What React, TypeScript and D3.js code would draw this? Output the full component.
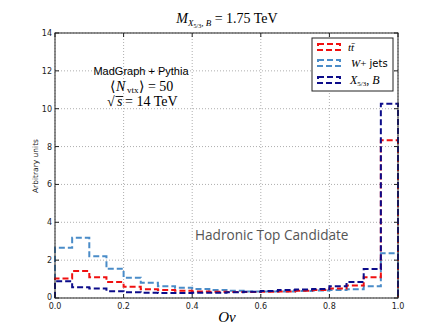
import React from "react";
import * as d3 from "d3";

const binEdges = [0, 0.05, 0.1, 0.15, 0.2, 0.25, 0.3, 0.35, 0.4, 0.45, 0.5, 0.55, 0.6, 0.65, 0.7, 0.75, 0.8, 0.85, 0.9, 0.95, 1.0];
const wjets = [2.65, 3.18, 2.2, 1.54, 1.07, 0.8, 0.62, 0.54, 0.47, 0.42, 0.38, 0.35, 0.34, 0.35, 0.37, 0.4, 0.42, 0.46, 0.62, 2.37];
const ttbar = [1.03, 1.42, 1.1, 0.84, 0.6, 0.46, 0.42, 0.38, 0.35, 0.33, 0.32, 0.32, 0.33, 0.35, 0.38, 0.42, 0.5, 0.66, 1.1, 8.33];
const signal = [0.89, 0.57, 0.5, 0.36, 0.3, 0.28, 0.27, 0.27, 0.28, 0.28, 0.3, 0.33, 0.37, 0.42, 0.45, 0.48, 0.62, 0.85, 1.53, 10.26];
const xTicks = [0, 0.2, 0.4, 0.6, 0.8, 1.0];
const yTicks = [0, 2, 4, 6, 8, 10, 12, 14];

const W = 443, H = 332;
const L = 55, R = 398, T = 33, B = 298;
const RED = "#f01010", LBLUE = "#4a8cc8", DBLUE = "#0c0c8a";
const serif = "'Liberation Serif', 'DejaVu Serif', serif";
const sans = "'DejaVu Sans', sans-serif";

export default function App() {
  const x = d3.scaleLinear().domain([0, 1]).range([L, R]);
  const y = d3.scaleLinear().domain([0, 14]).range([B, T]);

  const stepPath = (vals: number[]) => {
    const pts: [number, number][] = [[binEdges[0], 0]];
    vals.forEach((v, i) => {
      pts.push([binEdges[i], v]);
      pts.push([binEdges[i + 1], v]);
    });
    pts.push([binEdges[binEdges.length - 1], 0]);
    return d3.line<[number, number]>().x(d => x(d[0])).y(d => y(d[1]))(pts) || "";
  };

  const series = [
    { vals: wjets, color: LBLUE },
    { vals: ttbar, color: RED },
    { vals: signal, color: DBLUE },
  ];

  const legendY = [47, 63, 80];
  const legendColors = [RED, LBLUE, DBLUE];

  return (
    <svg width={W} height={H} style={{ position: "absolute", left: 0, top: 0, background: "#fff" }}>
      <rect x={0} y={0} width={W} height={H} fill="#fff" />
      {/* grid */}
      {xTicks.map(t => (
        <line key={"gx" + t} x1={x(t)} x2={x(t)} y1={T} y2={B} stroke="#999" strokeWidth={0.8} strokeDasharray="1,2" />
      ))}
      {yTicks.map(t => (
        <line key={"gy" + t} x1={L} x2={R} y1={y(t)} y2={y(t)} stroke="#999" strokeWidth={0.8} strokeDasharray="1,2" />
      ))}
      {/* histograms */}
      {series.map((s, i) => (
        <path key={i} d={stepPath(s.vals)} fill="none" stroke={s.color} strokeWidth={2} strokeDasharray="6,3" />
      ))}
      {/* frame */}
      <rect x={L} y={T} width={R - L} height={B - T} fill="none" stroke="#222" strokeWidth={1} />
      {/* ticks */}
      {xTicks.map(t => (
        <g key={"tx" + t}>
          <line x1={x(t)} x2={x(t)} y1={B} y2={B - 4} stroke="#222" />
          <line x1={x(t)} x2={x(t)} y1={T} y2={T + 4} stroke="#222" />
          <text x={x(t)} y={309} fontSize={8} fontFamily={sans} textAnchor="middle" fill="#222">{t.toFixed(1)}</text>
        </g>
      ))}
      {yTicks.map(t => (
        <g key={"ty" + t}>
          <line x1={L} x2={L + 4} y1={y(t)} y2={y(t)} stroke="#222" />
          <line x1={R} x2={R - 4} y1={y(t)} y2={y(t)} stroke="#222" />
          <text x={52} y={y(t) + (t === 0 ? 2 : 3)} fontSize={8} fontFamily={sans} textAnchor="end" fill="#222">{t}</text>
        </g>
      ))}
      {/* axis labels */}
      <text x={227} y={322} fontSize={15} fontFamily={serif} fontStyle="italic" textAnchor="middle">Ov</text>
      <text transform={`translate(38,166) rotate(-90)`} fontSize={7.5} fontFamily={sans} textAnchor="middle" fill="#222">Arbitrary units</text>
      {/* title */}
      <text x={227} y={23} fontSize={14} fontFamily={serif} textAnchor="middle">
        <tspan fontStyle="italic">M</tspan>
        <tspan fontSize={9} dy={3} fontStyle="italic">X</tspan>
        <tspan fontSize={6} dy={2}>5/3</tspan>
        <tspan fontSize={9} dy={-2}>, </tspan>
        <tspan fontSize={9} fontStyle="italic">B</tspan>
        <tspan dy={-3}> = 1.75 TeV</tspan>
      </text>
      {/* annotations */}
      <text x={141} y={75} fontSize={11} fontFamily="'Liberation Sans', Arial, sans-serif" textAnchor="middle">MadGraph + Pythia</text>
      <text x={110} y={91} fontSize={14} fontFamily={serif}>⟨</text>
      <text x={116} y={91} fontSize={14} fontFamily={serif} fontStyle="italic">N</text>
      <text x={127} y={93} fontSize={9} fontFamily={serif}>vtx</text>
      <text x={139} y={91} fontSize={14} fontFamily={serif}>⟩ = 50</text>
      <text x={107} y={106} fontSize={14} fontFamily={serif}>√</text>
      <line x1={115.5} x2={123} y1={96.5} y2={96.5} stroke="#000" strokeWidth={0.9} />
      <text x={117} y={106} fontSize={14} fontFamily={serif} fontStyle="italic">s</text>
      <text x={125} y={106} fontSize={14} fontFamily={serif}>= 14 TeV</text>
      <text x={195} y={240} fontSize={13.6} fontFamily="'Open Sans', sans-serif" fill="#555">Hadronic Top Candidate</text>
      {/* legend */}
      <rect x={312} y={38} width={81} height={53} fill="#fff" stroke="#222" strokeWidth={1} />
      {legendColors.map((c, i) => (
        <rect key={"lg" + i} x={318} y={legendY[i] - 3} width={22} height={6} fill="none" stroke={c} strokeWidth={2} strokeDasharray="6,3" />
      ))}
      <text x={348} y={legendY[0] + 4} fontSize={11} fontFamily={serif} fontStyle="italic">tt̄</text>
      <text x={351} y={legendY[1] + 4} fontSize={11} fontFamily={serif}>
        <tspan fontStyle="italic">W</tspan><tspan>+</tspan><tspan fontFamily={sans} fontSize={10}> jets</tspan>
      </text>
      <text x={350} y={legendY[2] + 4} fontSize={12} fontFamily={serif}>
        <tspan fontStyle="italic">X</tspan><tspan fontSize={7} dy={2}>5/3</tspan><tspan dy={-2}>, </tspan><tspan fontStyle="italic">B</tspan>
      </text>
    </svg>
  );
}
